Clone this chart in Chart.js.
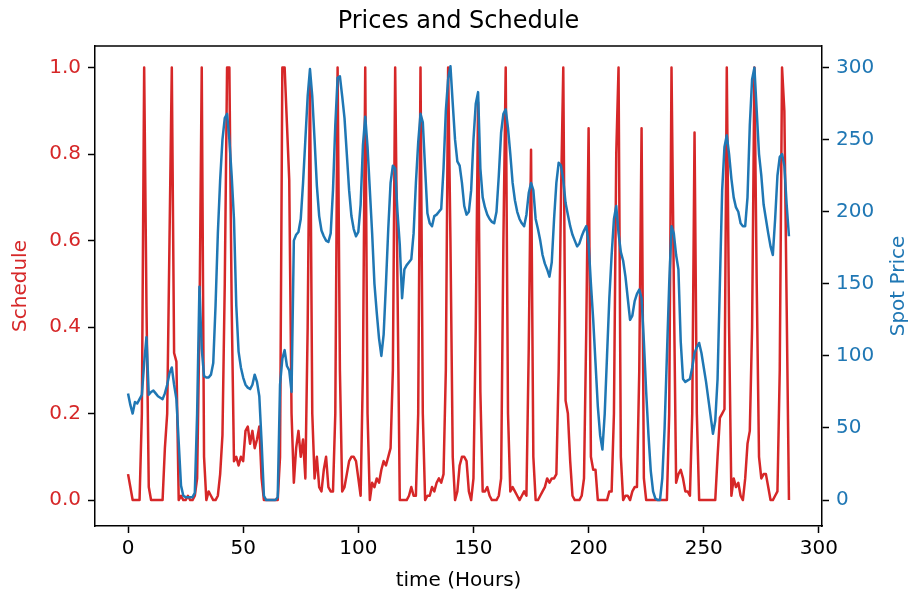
<!DOCTYPE html>
<html>
<head>
<meta charset="utf-8">
<title>Prices and Schedule</title>
<script src="https://cdn.jsdelivr.net/npm/chart.js@4.4.1/dist/chart.umd.min.js"></script>
<style>
  html, body { margin:0; padding:0; background:#fff; }
  #wrap { width:911px; height:596px; }
</style>
</head>
<body>
<div id="wrap"><canvas id="priceChart" width="911" height="596"></canvas></div>
<script>
// schedule (left axis) and spot price (right axis), one value per hour
const hours = Array.from({ length: 288 }, (_, i) => i);
const schedule = [
  0.06, 0.03, 0, 0, 0, 0, 0.2, 1, 0.45, 0.03,
  0, 0, 0, 0, 0, 0, 0.12, 0.2, 0.6, 1,
  0.34, 0.32, 0, 0.01, 0, 0, 0.01, 0, 0, 0.01,
  0.05, 0.4, 1, 0.1, 0, 0.02, 0.01, 0, 0, 0.01,
  0.06, 0.15, 0.5, 1, 1, 0.45, 0.09, 0.1, 0.08, 0.1,
  0.09, 0.16, 0.17, 0.13, 0.16, 0.12, 0.14, 0.17, 0.05, 0,
  0, 0, 0, 0, 0, 0, 0.1, 1, 1, 0.87,
  0.74, 0.2, 0.04, 0.12, 0.16, 0.1, 0.14, 0.05, 0.4, 0.97,
  0.2, 0.05, 0.1, 0.03, 0.02, 0.07, 0.1, 0.03, 0.02, 0.02,
  0.2, 1, 0.3, 0.02, 0.03, 0.06, 0.09, 0.1, 0.1, 0.09,
  0.05, 0.01, 0.3, 1, 0.2, 0, 0.04, 0.03, 0.05, 0.04,
  0.07, 0.09, 0.08, 0.1, 0.12, 0.3, 1, 0.5, 0, 0,
  0, 0, 0.01, 0.03, 0.01, 0.01, 0.2, 1, 0.2, 0,
  0.01, 0.01, 0.03, 0.02, 0.04, 0.05, 0.04, 0.06, 0.3, 1,
  0.6, 0.1, 0, 0.02, 0.08, 0.1, 0.1, 0.09, 0.02, 0,
  0.05, 0.4, 0.92, 0.25, 0.02, 0.02, 0.03, 0.01, 0, 0,
  0, 0.01, 0.05, 0.6, 1, 0.2, 0.02, 0.03, 0.02, 0.01,
  0, 0.01, 0.02, 0.01, 0.35, 0.81, 0.1, 0, 0, 0.01,
  0.02, 0.03, 0.05, 0.04, 0.05, 0.05, 0.06, 0.3, 0.7, 1,
  0.23, 0.2, 0.09, 0.01, 0, 0, 0, 0.01, 0.05, 0.4,
  0.86, 0.1, 0.07, 0.07, 0, 0, 0, 0, 0, 0.02,
  0.02, 0.2, 0.8, 1, 0.1, 0, 0.01, 0.01, 0, 0.02,
  0.03, 0.03, 0.3, 0.86, 0.05, 0, 0, 0, 0, 0,
  0, 0, 0, 0, 0, 0.2, 1, 0.5, 0.04, 0.06,
  0.07, 0.05, 0.02, 0.02, 0.01, 0.2, 0.85, 0.2, 0, 0,
  0, 0, 0, 0, 0, 0, 0.1, 0.19, 0.2, 0.21,
  1, 0.4, 0.01, 0.05, 0.03, 0.04, 0.01, 0, 0.05, 0.13,
  0.16, 0.4, 1, 0.5, 0.1, 0.05, 0.06, 0.06, 0.03, 0,
  0, 0.01, 0.02, 0.3, 1, 0.9, 0.45, 0
];
const spotPrice = [
  74, 66, 60, 68, 67, 70, 73, 95, 113, 73,
  75, 76, 74, 72, 71, 70, 74, 80, 88, 92,
  80, 70, 40, 10, 3, 2, 2, 2, 2, 5,
  60, 148, 105, 86, 85, 85, 87, 95, 135, 185,
  222, 250, 265, 268, 250, 225, 195, 135, 103, 92,
  85, 80, 78, 77, 80, 87, 82, 72, 40, 3,
  0, 0, 0, 0, 0, 2, 80, 98, 104, 93,
  90, 75, 180, 184, 186, 195, 220, 250, 280, 299,
  280, 250, 218, 197, 187, 183, 180, 179, 185, 215,
  260, 293, 294, 280, 265, 240, 215, 197, 188, 183,
  186, 205, 246, 266, 245, 215, 185, 150, 130, 112,
  100, 115, 150, 188, 220, 232, 230, 200, 177, 140,
  160, 163, 165, 167, 185, 220, 248, 268, 262, 230,
  199, 192, 190, 197, 198, 200, 202, 230, 270, 292,
  301, 275, 250, 235, 232, 220, 204, 198, 200, 215,
  250, 275, 283, 230, 210, 203, 198, 195, 193, 192,
  200, 225, 255, 268, 271, 258, 240, 220, 208, 200,
  195, 192, 190, 198, 213, 220, 215, 195, 188, 180,
  170, 164, 160, 155, 165, 195, 220, 234, 232, 222,
  206, 198, 190, 184, 180, 176, 178, 183, 187, 190,
  178, 150, 125, 95, 65, 45, 35, 60, 100, 140,
  170, 195, 204, 185, 172, 166, 155, 140, 125, 128,
  138, 143, 146, 140, 110, 75, 45, 20, 6, 1,
  0, 0, 15, 50, 100, 150, 190, 185, 170, 160,
  110, 84, 82, 83, 84, 92, 102, 106, 109, 102,
  92, 82, 70, 58, 46, 55, 84, 150, 215, 245,
  253, 240, 223, 210, 203, 200, 192, 190, 190, 210,
  260, 292, 300, 270, 240, 225, 205, 195, 185, 176,
  170, 195, 225, 238, 240, 232, 205, 183
];
const xTicks = [0, 50, 100, 150, 200, 250, 300];
const scheduleTicks = [0, 0.2, 0.4, 0.6, 0.8, 1.0];
const priceTicks = [0, 50, 100, 150, 200, 250, 300];

const RED = '#d62728', BLUE = '#1f77b4';
const FONT = 'DejaVu Sans';

// top spine + title + axis labels (right label reads bottom-to-top like matplotlib)
const frameAndLabels = {
  id: 'frameAndLabels',
  afterDraw(chart) {
    const { ctx, chartArea: a } = chart;
    const midX = (a.left + a.right) / 2, midY = (a.top + a.bottom) / 2;
    ctx.save();
    ctx.strokeStyle = '#000'; ctx.lineWidth = 1.5;
    ctx.beginPath(); ctx.moveTo(a.left, a.top); ctx.lineTo(a.right, a.top); ctx.stroke();
    ctx.textAlign = 'center'; ctx.textBaseline = 'middle';
    ctx.fillStyle = '#000'; ctx.font = `24px "${FONT}"`;
    ctx.fillText('Prices and Schedule', midX, 22);
    ctx.font = `20px "${FONT}"`;
    ctx.fillText('time (Hours)', midX, 581);
    ctx.save(); ctx.translate(21, midY); ctx.rotate(-Math.PI / 2); ctx.fillStyle = RED; ctx.fillText('Schedule', 0, 0); ctx.restore();
    ctx.save(); ctx.translate(899, midY); ctx.rotate(-Math.PI / 2); ctx.fillStyle = BLUE; ctx.fillText('Spot Price', 0, 0); ctx.restore();
    ctx.restore();
  }
};

const tickGrid = { drawOnChartArea: false, drawTicks: true, tickLength: 7, tickWidth: 1.5, color: '#000' };
const border = { display: true, color: '#000', width: 1.5 };

new Chart(document.getElementById('priceChart'), {
  type: 'line',
  data: {
    datasets: [
      { label: 'Spot Price', data: hours.map(h => ({ x: h, y: spotPrice[h] })), yAxisID: 'y1', borderColor: BLUE, borderWidth: 2.5, pointRadius: 0, order: 1 },
      { label: 'Schedule', data: hours.map(h => ({ x: h, y: schedule[h] })), yAxisID: 'y', borderColor: RED, borderWidth: 2.5, pointRadius: 0, order: 2 }
    ]
  },
  options: {
    responsive: false, animation: false, devicePixelRatio: 1,
    layout: { padding: { top: 46, left: 0, right: 0, bottom: 0 } },
    plugins: { legend: { display: false }, tooltip: { enabled: false }, title: { display: false } },
    elements: { line: { tension: 0, borderJoinStyle: 'round' } },
    scales: {
      x: {
        type: 'linear', min: -14.35, max: 301.35,
        afterBuildTicks: s => { s.ticks = xTicks.map(v => ({ value: v })); },
        afterFit: s => { s.height = 70; },
        ticks: { color: '#000', padding: 4, maxRotation: 0, font: { family: FONT, size: 20 }, callback: v => String(v) },
        grid: tickGrid, border
      },
      y: {
        position: 'left', min: -0.06, max: 1.05,
        afterBuildTicks: s => { s.ticks = scheduleTicks.map(v => ({ value: v })); },
        afterFit: s => { s.width = 95; },
        ticks: { color: RED, padding: 7, font: { family: FONT, size: 20 }, callback: v => Number(v).toFixed(1) },
        grid: tickGrid, border
      },
      y1: {
        position: 'right', min: -18, max: 315,
        afterBuildTicks: s => { s.ticks = priceTicks.map(v => ({ value: v })); },
        afterFit: s => { s.width = 89; },
        ticks: { color: BLUE, padding: 7, font: { family: FONT, size: 20 }, callback: v => String(v) },
        grid: tickGrid, border
      }
    }
  },
  plugins: [frameAndLabels]
});
</script>
</body>
</html>
